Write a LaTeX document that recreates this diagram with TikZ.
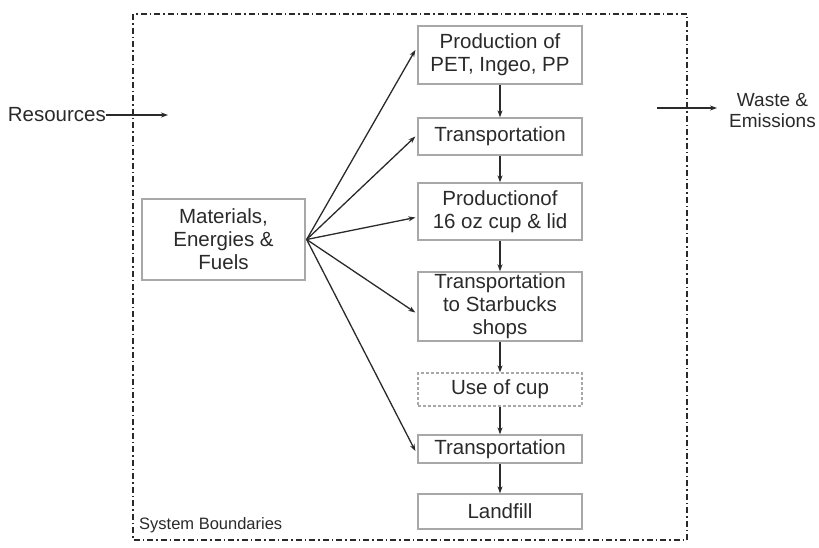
\documentclass[tikz,border=0pt]{standalone}
\usepackage{fontspec}
\setmainfont{Liberation Sans}
\usetikzlibrary{arrows.meta}
\definecolor{boxgray}{HTML}{A8A8A8}
\definecolor{ink}{HTML}{2A2A2A}
\begin{document}
\begin{tikzpicture}[x=1pt,y=-1pt,
  box/.style={draw=boxgray,line width=1.3pt,minimum width=164pt,inner sep=2pt,align=center,
    font=\fontsize{20.5}{23}\selectfont,text=ink},
  dbox/.style={box,dash pattern=on 3pt off 2pt},
  flow/.style={draw=ink,line width=1.3pt,-{Stealth[length=7pt,width=5pt]}},
  lbl/.style={font=\fontsize{20.5}{22}\selectfont,text=ink,inner sep=0pt,align=center}]
\useasboundingbox (0,0) rectangle (819,547);
% boundary
\draw[ink,line width=1.4pt,dash pattern=on 6pt off 3pt on 1.5pt off 3pt] (133,14) rectangle (687,540);
\node[font=\fontsize{16.5}{18}\selectfont,text=ink,anchor=base west,inner sep=0pt] (sb) at (139,529) {System Boundaries};
% boxes
\node[box,minimum height=58pt] (b1) at (500,55) {Production of\\PET, Ingeo, PP};
\node[box,minimum height=37pt] (b2) at (500,136.5) {Transportation};
\node[box,minimum height=57pt] (b3) at (500,211.5) {Productionof\\16 oz cup \& lid};
\node[box,minimum height=69pt] (b4) at (500,306.5) {Transportation\\to Starbucks\\shops};
\node[dbox,minimum height=33pt] (b5) at (500,389.5) {Use of cup};
\node[box,minimum height=28pt] (b6) at (500,449) {Transportation};
\node[box,minimum height=35pt] (b7) at (500,511.5) {Landfill};
\node[box,minimum width=163pt,minimum height=81pt] (mat) at (223.5,239.5) {Materials,\\Energies \&\\Fuels};
% vertical flow
\draw[flow] (b1) -- (b2);
\draw[flow] (b2) -- (b3);
\draw[flow] (b3) -- (b4);
\draw[flow] (b4) -- (b5);
\draw[flow] (b5) -- (b6);
\draw[flow] (b6) -- (b7);
% fan
\coordinate (src) at ([xshift=1pt]mat.east);
\draw[flow] (src) -- ([xshift=-2pt,yshift=5pt]b1.west);
\draw[flow] (src) -- ([xshift=-2pt]b2.west);
\draw[flow] (src) -- ([xshift=-2pt,yshift=-6pt]b3.west);
\draw[flow] (src) -- ([xshift=-2pt,yshift=-6pt]b4.west);
\draw[flow] (src) -- ([xshift=-2pt,yshift=-2pt]b6.west);
% resources
\node[lbl,anchor=east] (res) at (106,115) {Resources};
\coordinate (resend) at (168,115);
\draw[flow] (res) -- (resend);
% waste
\node[lbl,font=\fontsize{19}{21}\selectfont,anchor=east] (waste) at (816,111) {Waste \&\\Emissions};
\coordinate (wstart) at (657,108);
\coordinate (wend) at (717,108);
\draw[flow] (wstart) -- (wend);
\end{tikzpicture}
\end{document}
